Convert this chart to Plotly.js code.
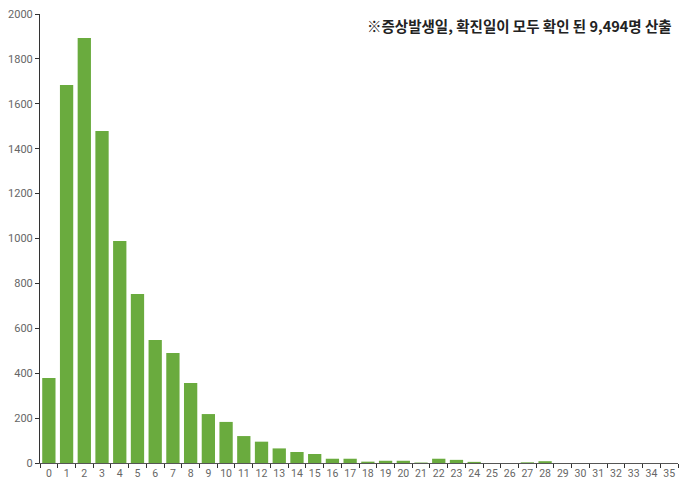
<!DOCTYPE html>
<html><head><meta charset="utf-8">
<script src="https://cdn.plot.ly/plotly-3.0.1.min.js"></script>
<style>html,body{margin:0;padding:0;background:#fff}#c{width:680px;height:487px}</style>
</head><body><div id="c"></div>
<script>
const days = ["0","1","2","3","4","5","6","7","8","9","10","11","12","13","14","15","16","17","18","19","20","21","22","23","24","25","26","27","28","29","30","31","32","33","34","35"];
const counts = [379,1684,1893,1479,989,753,548,490,356,218,183,120,95,65,49,40,19,19,6,10,10,2,19,14,5,0,0,3,8,0,0,0,0,0,0,0];
const yTicks = [0,200,400,600,800,1000,1200,1400,1600,1800,2000];
const note = "※증상발생일, 확진일이 모두 확인 된 9,494명 산출";

Plotly.newPlot('c', [{
  type: 'bar', x: days, y: counts,
  marker: {color: '#6aab3e'}, hoverinfo: 'skip'
}], {
  width: 680, height: 487,
  margin: {l: 40, r: 2, t: 14, b: 24},
  paper_bgcolor: '#fff', plot_bgcolor: '#fff',
  bargap: 0.25,
  showlegend: false,
  font: {family: 'Roboto, "Noto Sans", sans-serif', color: '#666', size: 11},
  xaxis: {
    type: 'category', tickson: 'boundaries', ticks: 'outside', ticklen: 4,
    tickcolor: '#333', showline: true, linecolor: '#555', linewidth: 1,
    showgrid: false, zeroline: false, tickangle: 0,
    tickfont: {size: 10.5, color: '#666'},
    fixedrange: true
  },
  yaxis: {
    range: [0, 2000], tickvals: yTicks, ticktext: yTicks.map(String),
    ticks: 'outside', ticklen: 4, tickcolor: '#333',
    showline: true, linecolor: '#333', linewidth: 1,
    showgrid: false, zeroline: false, tickfont: {size: 11, color: '#666'},
    fixedrange: true
  },
  annotations: [{
    text: '<b>' + note + '</b>', xref: 'paper', yref: 'paper',
    x: 0.993, y: 0.975, xanchor: 'right', yanchor: 'middle', showarrow: false,
    font: {family: '"Noto Sans CJK KR", sans-serif', size: 14.5, color: '#222'}
  }]
}, {displayModeBar: false, staticPlot: true});
</script></body></html>
